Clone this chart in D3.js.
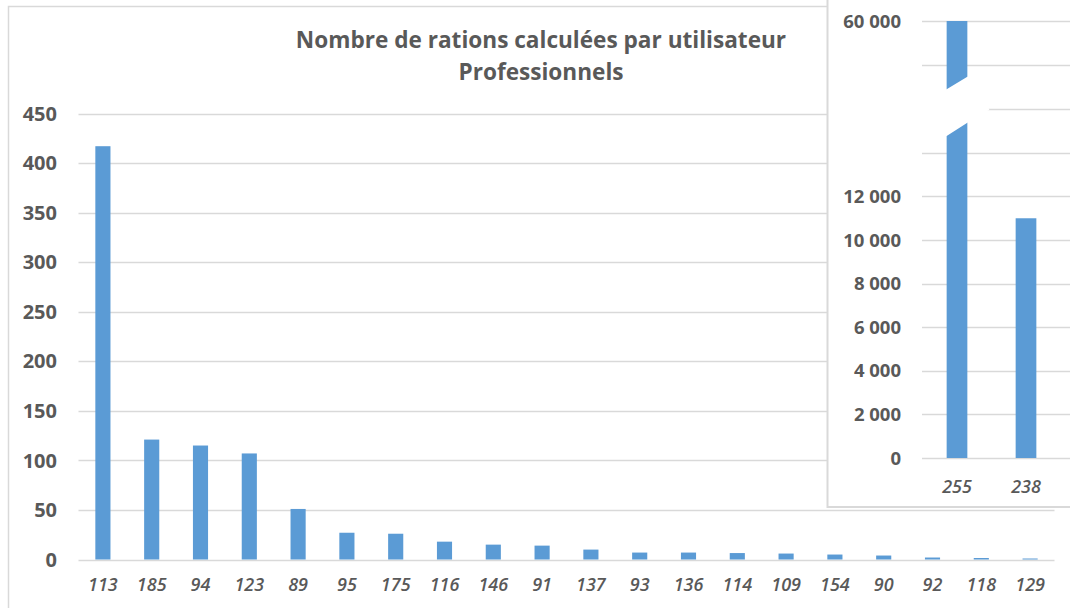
<!DOCTYPE html>
<html>
<head>
<meta charset="utf-8">
<script src="https://cdn.jsdelivr.net/npm/d3@7"></script>
<style>
  body { margin: 0; background: #fff; }
  svg { display: block; font-family: "Open Sans", "Liberation Sans", sans-serif; }
</style>
</head>
<body>
<div id="chart"></div>
<script>
// Nombre de rations calculées par utilisateur - Professionnels

var users = ["113", "185", "94", "123", "89", "95", "175", "116", "146", "91",
             "137", "93", "136", "114", "109", "154", "90", "92", "118", "129"];
var rations = [417, 121, 115, 107, 51, 27, 26, 18, 15, 14,
               10, 7, 7, 6.5, 6, 5, 4, 2, 1.5, 1];
var yTicks = [0, 50, 100, 150, 200, 250, 300, 350, 400, 450];

// big users, shown in the inset with a broken axis
var bigUsers = ["255", "238"];
var bigRations = [60000, 11000];
var insetTicksLow = [0, 2000, 4000, 6000, 8000, 10000, 12000, 14000, 16000];
var insetTicksHigh = [58000, 60000];
var insetLabels = [0, 2000, 4000, 6000, 8000, 10000, 12000, 60000];

var width = 1070, height = 608;
var barColor = "#5b9bd5";
var gridColor = "#d9d9d9";
var textColor = "#595959";

var svg = d3.select("#chart").append("svg")
    .attr("width", width)
    .attr("height", height);

// outer chart frame
svg.append("rect")
    .attr("x", 8.5).attr("y", 6.5)
    .attr("width", 1200).attr("height", 800)
    .attr("fill", "#fff")
    .attr("stroke", gridColor)
    .attr("stroke-width", 1.5);

// title
var title = svg.append("text")
    .attr("text-anchor", "middle")
    .attr("fill", textColor)
    .style("font-size", "22.6px")
    .style("font-weight", "bold");
title.append("tspan").attr("x", 541).attr("y", 48).text("Nombre de rations calculées par utilisateur");
title.append("tspan").attr("x", 541).attr("y", 80).text("Professionnels");

// main chart
var x = d3.scaleBand()
    .domain(users)
    .range([78.5, 1054.5])
    .paddingInner(0.69)
    .paddingOuter(0.345);

var y = d3.scaleLinear()
    .domain([0, 450])
    .range([559.5, 113.5]);

svg.append("g").selectAll("line")
    .data(yTicks)
    .enter()
    .append("line")
    .attr("x1", 78.5).attr("x2", 1054.5)
    .attr("y1", function(d) { return Math.round(y(d)) + 0.5; })
    .attr("y2", function(d) { return Math.round(y(d)) + 0.5; })
    .attr("stroke", gridColor)
    .attr("stroke-width", 1.3);

svg.append("g").selectAll("text")
    .data(yTicks)
    .enter()
    .append("text")
    .attr("x", 57)
    .attr("y", function(d) { return y(d); })
    .attr("dy", "0.36em")
    .attr("text-anchor", "end")
    .attr("fill", textColor)
    .style("font-size", "20px")
    .style("font-weight", "bold")
    .text(function(d) { return d; });

svg.append("g").selectAll("rect")
    .data(rations)
    .enter()
    .append("rect")
    .attr("x", function(d, i) { return x(users[i]); })
    .attr("width", x.bandwidth())
    .attr("y", function(d) { return y(d); })
    .attr("height", function(d) { return y(0) - y(d); })
    .attr("fill", barColor);

svg.append("g").selectAll("text")
    .data(users)
    .enter()
    .append("text")
    .attr("x", function(d) { return x(d) + x.bandwidth() / 2; })
    .attr("y", 591)
    .attr("text-anchor", "middle")
    .attr("fill", textColor)
    .style("font-size", "18px")
    .style("font-style", "italic")
    .style("font-weight", "600")
    .text(function(d) { return d; });

// inset with broken axis
var inset = svg.append("g");

inset.append("rect")
    .attr("x", 827.5).attr("y", -5)
    .attr("width", 300).attr("height", 512)
    .attr("fill", "#fff")
    .attr("stroke", gridColor)
    .attr("stroke-width", 2);

var xi = d3.scaleBand()
    .domain(bigUsers)
    .range([922.5, 1060.5])
    .paddingInner(0.7)
    .paddingOuter(0.35);

var yLow = d3.scaleLinear().domain([0, 16000]).range([458, 109.3]);
var yHigh = d3.scaleLinear().domain([56000, 60000]).range([109.3, 21]);
function yi(v) { return v <= 16000 ? yLow(v) : yHigh(v); }

inset.append("g").selectAll("line")
    .data(insetTicksLow.concat(insetTicksHigh))
    .enter()
    .append("line")
    .attr("x1", 922).attr("x2", 1075)
    .attr("y1", function(d) { return Math.round(yi(d)) + 0.5; })
    .attr("y2", function(d) { return Math.round(yi(d)) + 0.5; })
    .attr("stroke", gridColor)
    .attr("stroke-width", 1.3);

inset.append("g").selectAll("text")
    .data(insetLabels)
    .enter()
    .append("text")
    .attr("x", 901)
    .attr("y", function(d) { return yi(d); })
    .attr("dy", "0.36em")
    .attr("text-anchor", "end")
    .attr("fill", textColor)
    .style("font-size", "18.5px")
    .style("font-weight", "bold")
    .text(function(d) { return d3.format(",")(d).replace(/,/g, "\u00a0"); });

inset.append("g").selectAll("rect")
    .data(bigRations)
    .enter()
    .append("rect")
    .attr("x", function(d, i) { return xi(bigUsers[i]); })
    .attr("width", xi.bandwidth())
    .attr("y", function(d) { return yi(d); })
    .attr("height", function(d) { return yi(0) - yi(d); })
    .attr("fill", barColor);

// white slanted gap for the axis break, on the first bar
var bx0 = xi(bigUsers[0]), bx1 = bx0 + xi.bandwidth();
var brk = yLow(16000);
var gap = [
  [915, brk - 11], [bx0, brk - 20], [bx1, brk - 32.6], [bx1 + 8, brk - 33],
  [bx1 + 22, brk + 0.5], [bx1, brk + 13.4], [bx0, brk + 26.7], [915, brk + 31]
];
inset.append("polygon")
    .attr("points", gap.map(function(p) { return p.join(","); }).join(" "))
    .attr("fill", "#fff");

inset.append("g").selectAll("text")
    .data(bigUsers)
    .enter()
    .append("text")
    .attr("x", function(d) { return xi(d) + xi.bandwidth() / 2; })
    .attr("y", 493)
    .attr("text-anchor", "middle")
    .attr("fill", textColor)
    .style("font-size", "18px")
    .style("font-style", "italic")
    .style("font-weight", "600")
    .text(function(d) { return d; });
</script>
</body>
</html>
